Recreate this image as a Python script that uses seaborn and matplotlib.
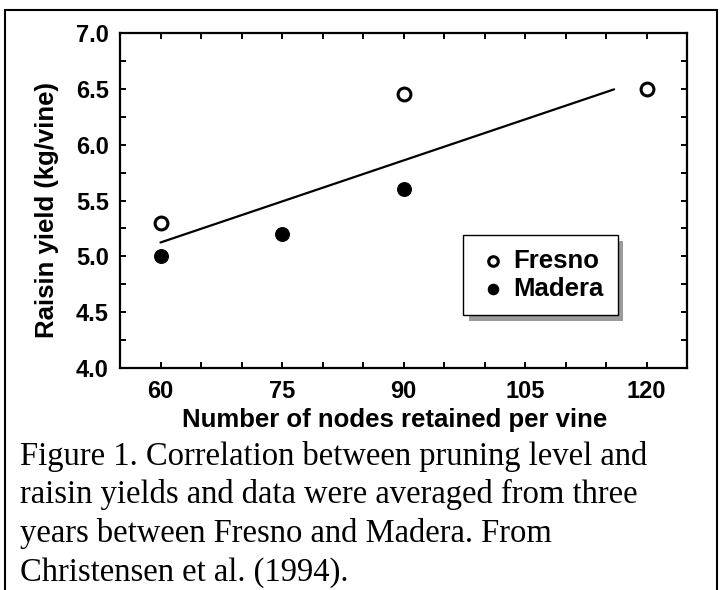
import numpy as np
import pandas as pd
import matplotlib
matplotlib.use("Agg")
import matplotlib.pyplot as plt
import matplotlib.patheffects as pe
from matplotlib.ticker import MultipleLocator, FixedLocator
import seaborn as sns

# ---- data ----
fresno_nodes = [60, 90, 120]
fresno_yield = [5.3, 6.45, 6.5]
madera_nodes = [60, 75, 90]
madera_yield = [5.0, 5.2, 5.6]
x_ticks = [60, 75, 90, 105, 120]
y_ticks = [4.0, 4.5, 5.0, 5.5, 6.0, 6.5, 7.0]
x_label = "Number of nodes retained per vine"
y_label = "Raisin yield (kg/vine)"
caption_lines = [
    "Figure 1. Correlation between pruning level and",
    "raisin yields and data were averaged from three",
    "years between Fresno and Madera. From",
    "Christensen et al. (1994).",
]

sns.set_style("ticks")
plt.rcParams["font.family"] = ["Liberation Sans", "DejaVu Sans"]
plt.rcParams["text.color"] = "black"
plt.rcParams["axes.labelcolor"] = "black"
plt.rcParams["xtick.color"] = "black"
plt.rcParams["ytick.color"] = "black"

W, H = 722, 590
fig = plt.figure(figsize=(W / 100, H / 100), dpi=100)
fig.patch.set_facecolor("white")

left, right, top, bottom = 120, 687, 33, 368
ax = fig.add_axes([left / W, 1 - bottom / H, (right - left) / W, (bottom - top) / H])

# regression line over all points
all_x = np.array(fresno_nodes + madera_nodes, dtype=float)
all_y = np.array(fresno_yield + madera_yield, dtype=float)
slope, intercept = np.polyfit(all_x, all_y, 1)
line_x = np.array([60.0, 116.0])
line_df = pd.DataFrame({"x": line_x, "y": intercept + slope * line_x})
sns.lineplot(data=line_df, x="x", y="y", ax=ax, color="black", linewidth=1.6)

fres = pd.DataFrame({"x": fresno_nodes, "y": fresno_yield})
mad = pd.DataFrame({"x": madera_nodes, "y": madera_yield})
sns.scatterplot(data=fres, x="x", y="y", ax=ax, marker="o", color="white",
                edgecolor="black", linewidth=2.2, s=85, label="Fresno", zorder=3)
sns.scatterplot(data=mad, x="x", y="y", ax=ax, marker="o", color="black",
                edgecolor="black", linewidth=1.0, s=95, label="Madera", zorder=3)

ax.set_xlim(55, 125)
ax.set_ylim(4.0, 7.0)
ax.xaxis.set_major_locator(FixedLocator(x_ticks))
ax.yaxis.set_major_locator(FixedLocator(y_ticks))
ax.xaxis.set_minor_locator(MultipleLocator(5))
ax.yaxis.set_minor_locator(MultipleLocator(0.25))
ax.set_xticklabels([str(v) for v in x_ticks])
ax.set_yticklabels([f"{v:.1f}" for v in y_ticks])

for sp in ax.spines.values():
    sp.set_visible(True)
    sp.set_linewidth(1.6)
    sp.set_color("black")

ax.tick_params(which="both", direction="in", top=True, right=True,
               length=4.5, width=1.4, color="black")
ax.tick_params(axis="x", which="major", pad=9, labelsize=17)
ax.tick_params(axis="y", which="major", pad=8, labelsize=17)
for lab in ax.get_xticklabels() + ax.get_yticklabels():
    lab.set_fontweight("bold")

ax.set_xlabel(x_label, fontsize=18.5, fontweight="bold")
ax.set_ylabel(y_label, fontsize=18.5, fontweight="bold")
ax.xaxis.set_label_coords((395 - left) / (right - left), -(408 - bottom) / (bottom - top), transform=ax.transAxes)
ax.xaxis.label.set_va("top")
ax.yaxis.set_label_coords(-(120 - 47) / (right - left), (bottom - 210) / (bottom - top), transform=ax.transAxes)
ax.yaxis.label.set_va("center")

leg = ax.legend(loc="lower left", bbox_to_anchor=(0.605, 0.158), frameon=True,
                fancybox=False, edgecolor="black", framealpha=1,
                prop={"weight": "bold", "size": 18.5}, markerscale=0.75,
                handlelength=1.2, handletextpad=0.2, labelspacing=0.15,
                borderpad=0.55, borderaxespad=0)
frame = leg.get_frame()
frame.set_linewidth(1.0)
frame.set_path_effects([pe.SimplePatchShadow(offset=(4, -4), shadow_rgbFace="#909090", alpha=0.9),
                        pe.Normal()])

# caption
for i, line in enumerate(caption_lines):
    fig.text(20 / W, 1 - (465 + i * 38.5) / H, line, family=["Liberation Serif", "DejaVu Serif"],
             fontsize=23.5, ha="left", va="baseline", color="black")

# figure border (top, left, right)
bx0, bx1, by0 = 5 / W, 717 / W, 1 - 10 / H
fig.add_artist(plt.Line2D([bx0, bx1], [by0, by0], color="black", lw=1.5, transform=fig.transFigure))
fig.add_artist(plt.Line2D([bx0, bx0], [by0, 0], color="black", lw=1.5, transform=fig.transFigure))
fig.add_artist(plt.Line2D([bx1, bx1], [by0, 0], color="black", lw=1.5, transform=fig.transFigure))

fig.savefig("out.png", dpi=100, facecolor="white")
